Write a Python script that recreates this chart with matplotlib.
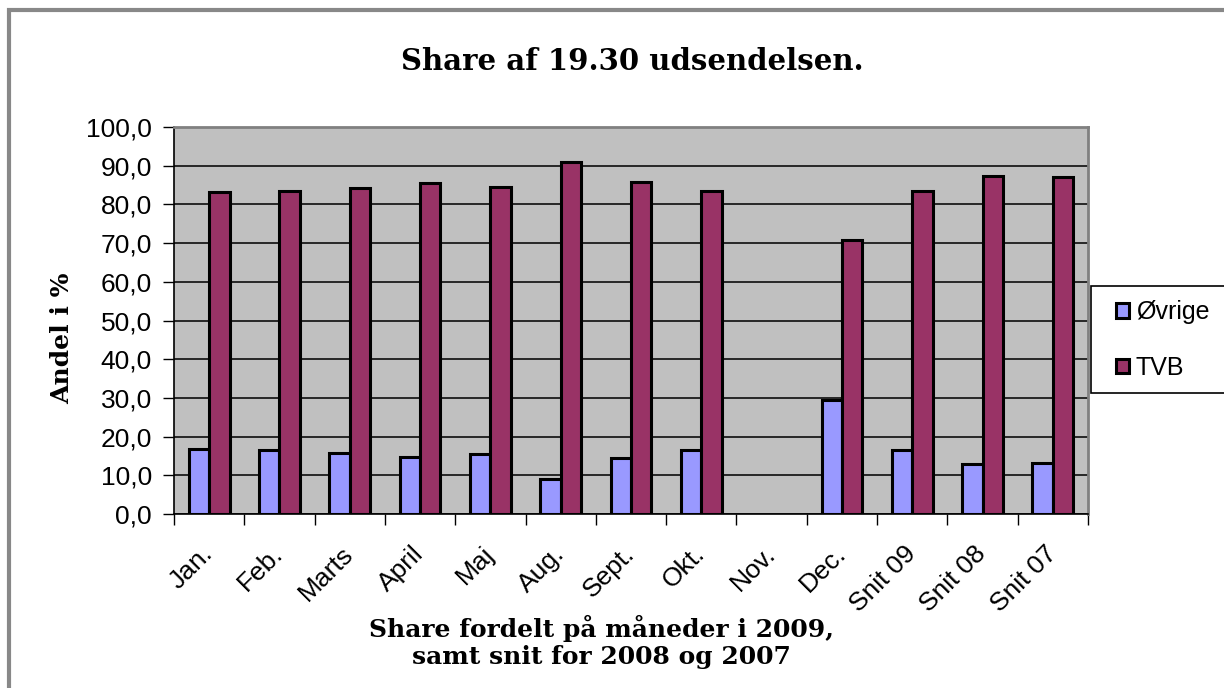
import matplotlib.pyplot as plt
import numpy as np
from matplotlib.patches import Rectangle

# Data (Nov. has no data)
months = ['Jan.', 'Feb.', 'Marts', 'April', 'Maj', 'Aug.', 'Sept.', 'Okt.',
          'Nov.', 'Dec.', 'Snit 09', 'Snit 08', 'Snit 07']
ovrige = [16.9, 16.6, 15.8, 14.6, 15.5, 9.0, 14.5, 16.6,
          np.nan, 29.5, 16.5, 12.8, 13.2]
tvb = [83.1, 83.5, 84.2, 85.5, 84.6, 91.0, 85.7, 83.4,
       np.nan, 70.7, 83.5, 87.3, 87.0]
series_names = ['Øvrige', 'TVB']
series_colors = ['#9999FF', '#993366']

sans = 'Liberation Sans'
serif = 'DejaVu Serif'

fig = plt.figure(figsize=(12.24, 6.88), dpi=100)
ax = fig.add_axes([174 / 1224, 1 - 514 / 688, 914 / 1224, 387 / 688])
ax.set_facecolor('#C0C0C0')

x = np.arange(len(months))
bar_w = 0.29
b1 = ax.bar(x - bar_w / 2, ovrige, bar_w, color=series_colors[0],
            edgecolor='black', linewidth=2.2, label=series_names[0], zorder=3)
b2 = ax.bar(x + bar_w / 2, tvb, bar_w, color=series_colors[1],
            edgecolor='black', linewidth=2.2, label=series_names[1], zorder=3)

# Axis limits and grid
ax.set_xlim(-0.5, len(months) - 0.5)
ax.set_ylim(0, 100)
yticks = np.arange(0, 101, 10)
ax.set_yticks(yticks)
ax.set_yticklabels([f'{v:.1f}'.replace('.', ',') for v in yticks],
                   fontfamily=sans, fontsize=19)
ax.yaxis.grid(True, color='#1a1a1a', linewidth=1.3, zorder=1)
ax.set_axisbelow(True)

# x ticks at the category boundaries, labels at the centres
ax.set_xticks(np.arange(-0.5, len(months), 1.0))
ax.set_xticklabels([])
ax.set_xticks(x, minor=True)
ax.set_xticklabels(months, minor=True, rotation=45, ha='right', va='center',
                   rotation_mode='anchor', fontfamily=sans, fontsize=19)
ax.tick_params(axis='x', which='minor', length=0, pad=26)
ax.tick_params(axis='x', which='major', length=8, width=1, direction='out')
ax.tick_params(axis='y', length=8, width=1, direction='out', pad=8)

for side in ['top', 'right']:
    ax.spines[side].set_color('#808080')
    ax.spines[side].set_linewidth(2)
for side in ['left', 'bottom']:
    ax.spines[side].set_color('black')
    ax.spines[side].set_linewidth(1.2)

# Titles
fig.text(632 / 1224, 1 - 62 / 688, 'Share af 19.30 udsendelsen.',
         ha='center', va='center', fontfamily=serif, fontweight='bold',
         fontsize=21)
fig.text(601 / 1224, 1 - 642 / 688,
         'Share fordelt på måneder i 2009,\nsamt snit for 2008 og 2007',
         ha='center', va='center', fontfamily=serif, fontweight='bold',
         fontsize=18, linespacing=1.2)
fig.text(62 / 1224, 1 - 338 / 688, 'Andel i %', rotation=90,
         ha='center', va='center', fontfamily=serif, fontweight='bold',
         fontsize=18)

# Legend box (runs off the right edge)
fig.patches.append(Rectangle((1091 / 1224, 1 - 393 / 688), 200 / 1224,
                             107 / 688, transform=fig.transFigure,
                             facecolor='white', edgecolor='black',
                             linewidth=1.2, zorder=1))
leg = fig.legend(handles=[b1, b2], loc='center left',
                 bbox_to_anchor=(1106 / 1224, 1 - 340 / 688),
                 frameon=False, prop={'family': sans, 'size': 18},
                 handlelength=0.5, handleheight=0.5, handletextpad=0.3,
                 labelspacing=1.25, borderaxespad=0)
leg.set_zorder(2)

# Outer chart border (runs off right and bottom)
fig.patches.append(Rectangle((9 / 1224, -0.1), 1.2, 1 - 10 / 688 + 0.1,
                             transform=fig.transFigure, facecolor='none',
                             edgecolor='#888888', linewidth=3, zorder=0))

plt.savefig('out.png', dpi=100)
